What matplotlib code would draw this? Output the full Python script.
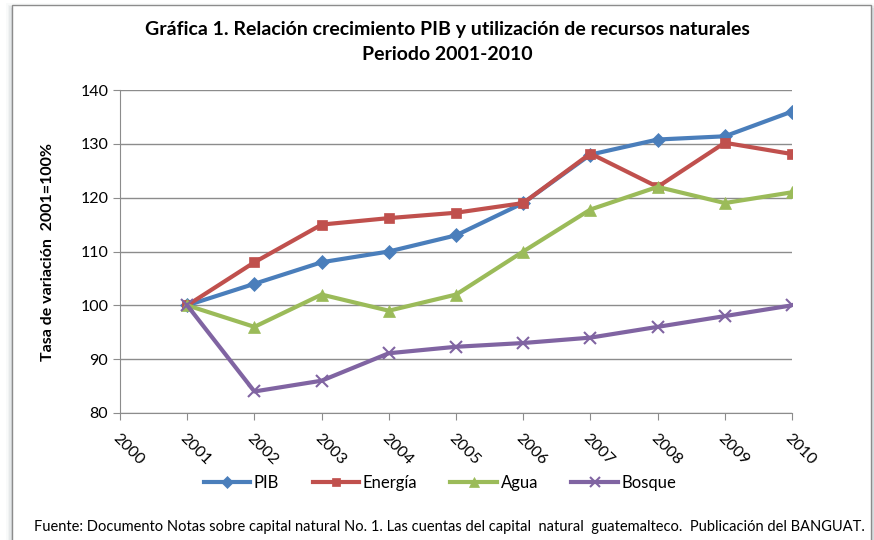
import matplotlib.pyplot as plt
from matplotlib.patches import Rectangle

years = ["2000", "2001", "2002", "2003", "2004", "2005", "2006", "2007", "2008", "2009", "2010"]
pib = [None, 100, 104, 108, 110, 113, 119, 128, 130.8, 131.4, 136]
energia = [None, 100, 108, 115, 116.2, 117.2, 119, 128.2, 122, 130.2, 128.1]
agua = [None, 100, 96, 102, 99, 102, 110, 117.8, 122, 119, 121]
bosque = [None, 100, 84, 86, 91.1, 92.3, 93, 94, 96, 98, 100]

plt.rcParams['font.family'] = ['Lato', 'DejaVu Sans']

fig = plt.figure(figsize=(8.74, 5.4), dpi=100)

# marco con sombra
for i, a in enumerate([0.05, 0.08, 0.12, 0.18]):
    fig.patches.append(Rectangle((6 + i * 1.5, -10), 880, 547 - i * 1.5,
                                 transform=None, facecolor="#9aa3ad", alpha=a,
                                 edgecolor="none", zorder=0))
fig.patches.append(Rectangle((12, -10), 859, 545, transform=None,
                             facecolor="white", edgecolor="#8c8c8c", lw=1, zorder=1))

ax = fig.add_axes([120 / 874, 1 - 413 / 540, 672 / 874, 323 / 540])
ax.set_zorder(2)
ax.patch.set_alpha(0)

x = list(range(len(years)))
series = [
    ("PIB", pib, "#4A7EBB", "D", 7.5),
    ("Energía", energia, "#C0504D", "s", 7.5),
    ("Agua", agua, "#9BBB59", "^", 8.5),
    ("Bosque", bosque, "#8064A2", "x", 9),
]
for name, vals, color, mk, ms in series:
    xs = [xi for xi, v in zip(x, vals) if v is not None]
    ys = [v for v in vals if v is not None]
    ax.plot(xs, ys, color=color, lw=3, marker=mk, markersize=ms,
            markeredgewidth=1.5 if mk == "x" else 0.5, markeredgecolor=color,
            label=name, zorder=3)

ax.set_xlim(0, 10)
ax.set_ylim(80, 140)
ax.set_yticks(range(80, 141, 10))
ax.set_xticks(x)
ax.set_xticklabels(years, rotation=-45, ha="left", va="top", rotation_mode="anchor")
ax.yaxis.grid(True, color="#8c8c8c", lw=1)
ax.set_axisbelow(True)
for s in ["top", "right"]:
    ax.spines[s].set_visible(False)
for s in ["left", "bottom"]:
    ax.spines[s].set_color("#8c8c8c")
ax.tick_params(axis="both", colors="#8c8c8c", labelcolor="black", labelsize=11.5, length=5)
ax.tick_params(axis="x", pad=8)

ax.set_ylabel("Tasa de variación  2001=100%", fontsize=11.5, fontweight="bold", labelpad=18)

fig.text(447 / 874, 1 - 30 / 540, "Gráfica 1. Relación crecimiento PIB y utilización de recursos naturales",
         ha="center", va="center", fontsize=14, fontweight="bold")
fig.text(447 / 874, 1 - 55 / 540, "Periodo 2001-2010",
         ha="center", va="center", fontsize=14, fontweight="bold")

leg = fig.legend(loc="center", bbox_to_anchor=(440 / 874, 1 - 483 / 540), ncol=4, frameon=False,
                 fontsize=12, handlelength=2.8, columnspacing=2.0, handletextpad=0.2,
                 markerscale=0.85)

fig.text(449 / 874, 1 - 527 / 540,
         "Fuente: Documento Notas sobre capital natural No. 1. Las cuentas del capital  natural  guatemalteco.  Publicación del BANGUAT.",
         ha="center", va="center", fontsize=10.5)

fig.savefig("out.png", dpi=100)
